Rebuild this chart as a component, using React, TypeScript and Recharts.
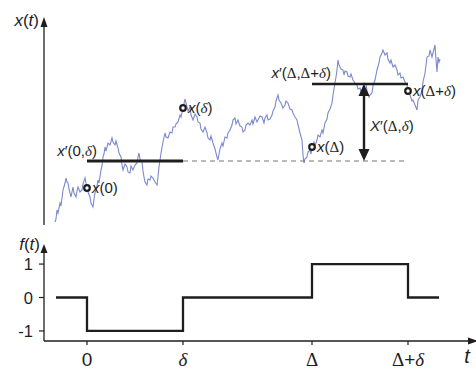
import React from 'react';
import { LineChart, Line, XAxis, YAxis, ReferenceLine, ReferenceDot } from 'recharts';

// time axis: δ is the window length, Δ the lag between the two windows
const delta = 96;
const lag = 225;
const tStart = -43;
const tEnd = 389;

// sampled path x(t) as [t, x]
const walk: [number, number][] = [
  [-32, 0.3], [-31, 0.6], [-30, 1.5], [-29, 1.2], [-27, 2.2], [-26, 1.9], [-24, 3.5], [-22, 4.2],
  [-21, 4.7], [-20, 4.3], [-19, 4.2], [-18, 3.6], [-16, 2.8], [-15, 3.3], [-14, 3.8], [-13, 3.2],
  [-11, 2.8], [-10, 3.4], [-9, 3.8], [-7, 3.3], [-5, 3.5], [-4, 4.1], [-2, 4.7], [-1, 4.2],
  [0, 3.7], [1, 3.3], [3, 2.8], [4, 2.2], [6, 1.8], [7, 2.6], [8, 3.2], [10, 3.9],
  [11, 4.5], [12, 4.2], [14, 5.5], [15, 5.9], [16, 6.8], [17, 7.1], [18, 7.8], [19, 7.4],
  [21, 8.2], [23, 8.0], [25, 8.7], [26, 8.3], [28, 8.0], [29, 8.4], [31, 7.7], [32, 7.2],
  [34, 6.8], [35, 6.0], [36, 5.5], [38, 6.1], [40, 5.8], [41, 5.3], [43, 5.2], [44, 5.9],
  [46, 5.5], [48, 6.0], [50, 6.2], [51, 6.8], [52, 7.2], [53, 6.6], [55, 6.3], [56, 5.4],
  [57, 4.8], [58, 4.3], [60, 4.0], [61, 4.6], [63, 4.5], [64, 4.9], [66, 4.7], [68, 4.3],
  [70, 4.0], [71, 4.8], [72, 5.8], [73, 6.5], [74, 7.2], [76, 8.3], [78, 9.2], [79, 8.8],
  [81, 8.7], [83, 9.3], [85, 9.2], [86, 9.8], [88, 9.8], [89, 10.1], [91, 10.3], [93, 11.0],
  [94, 10.8], [96, 11.7], [98, 12.6], [99, 12.2], [101, 11.4], [103, 11.8], [104, 11.0], [106, 10.5],
  [108, 11.1], [110, 10.8], [111, 10.3], [113, 10.2], [114, 9.6], [116, 9.3], [118, 9.8], [120, 9.2],
  [121, 8.7], [123, 8.5], [124, 8.9], [126, 8.2], [128, 7.6], [130, 6.8], [131, 6.5], [132, 7.1],
  [133, 7.6], [135, 8.2], [136, 7.9], [138, 8.8], [140, 8.7], [141, 9.2], [143, 9.5], [145, 10.0],
  [146, 10.5], [148, 10.7], [149, 10.1], [151, 10.5], [153, 9.9], [155, 9.8], [156, 9.3], [158, 9.5],
  [159, 10.0], [161, 10.2], [163, 10.0], [165, 10.5], [166, 10.1], [168, 10.8], [170, 10.3], [171, 10.5],
  [173, 10.9], [175, 10.8], [177, 10.2], [178, 10.7], [180, 11.0], [181, 10.5], [183, 10.6], [185, 11.0],
  [186, 11.4], [188, 11.8], [189, 12.4], [191, 13.0], [192, 12.5], [194, 12.2], [196, 11.7], [198, 12.0],
  [199, 12.4], [201, 12.2], [203, 11.6], [205, 11.5], [206, 11.2], [208, 10.8], [210, 10.5], [211, 10.0],
  [213, 9.2], [215, 8.5], [216, 7.0], [217, 6.2], [218, 6.6], [220, 6.8], [221, 7.3], [223, 7.5],
  [224, 7.1], [225, 7.8], [227, 8.3], [228, 7.9], [230, 8.5], [231, 9.0], [233, 8.8], [235, 9.5],
  [236, 9.2], [238, 10.2], [240, 10.6], [241, 11.2], [243, 11.6], [245, 12.2], [246, 13.0], [248, 14.2],
  [249, 14.8], [250, 15.5], [251, 16.5], [252, 16.0], [254, 15.6], [256, 15.5], [257, 15.0], [258, 15.4],
  [260, 15.3], [261, 14.9], [263, 14.8], [264, 15.1], [266, 14.5], [268, 14.2], [270, 14.0], [271, 13.6],
  [273, 13.7], [274, 13.3], [276, 13.8], [277, 14.2], [279, 14.1], [280, 13.4], [282, 12.8], [283, 13.0],
  [285, 13.2], [286, 13.9], [288, 14.5], [289, 15.0], [290, 15.5], [292, 16.2], [293, 16.8], [295, 17.2],
  [296, 17.5], [298, 17.0], [300, 17.2], [301, 16.6], [303, 16.2], [304, 16.5], [306, 15.8], [308, 16.0],
  [310, 15.5], [311, 15.0], [313, 15.2], [314, 14.7], [316, 14.8], [318, 14.3], [320, 14.0], [321, 13.4],
  [323, 13.0], [325, 12.4], [326, 12.5], [328, 12.0], [330, 11.5], [331, 12.5], [333, 12.8], [335, 13.5],
  [336, 14.3], [338, 15.2], [339, 16.0], [340, 16.8], [342, 16.9], [343, 17.5], [345, 16.8], [346, 17.2],
  [348, 18.0], [349, 16.5], [350, 15.3], [351, 16.8], [352, 16.3], [353, 16.6],
];

// window means x'(0,δ) and x'(Δ,Δ+δ)
const windowMeans = [6.4, 14.1];
// where the difference arrow X'(Δ,δ) is drawn
const arrowTime = 277;

// f(t) breakpoints (step held until the next time)
const stepTimes = [-31, 0, delta, lag, lag + delta, 352];
const stepValues = [0, -1, 0, 1, 0, 0];

const tickTimes = [0, delta, lag, lag + delta];
const tickNames = ['0', 'δ', 'Δ', 'Δ+δ'];
const fTicks = [-1, 0, 1];

const walkData = walk.map(([t, x]) => ({ t, x }));
const stepData = stepTimes.map((t, i) => ({ t, f: stepValues[i] }));
const valueAt = (t: number) => walk.find((p) => p[0] === t)![1];

const SANS = '"Liberation Sans", Arial, Helvetica, sans-serif';
const SERIF = '"Liberation Serif", "Times New Roman", serif';
const INK = '#1e1e1e';

// latin variables in italic, greek letters in a serif face (δ italic)
function MathText({ x, y, text, anchor = 'start', size = 15 }: any) {
  const runs: { s: string; family: string; italic: boolean }[] = [];
  for (const ch of text) {
    const italic = 'xtfX'.includes(ch) || ch === 'δ';
    const family = ch === 'δ' || ch === 'Δ' ? SERIF : SANS;
    const last = runs[runs.length - 1];
    if (last && last.family === family && last.italic === italic) last.s += ch;
    else runs.push({ s: ch, family, italic });
  }
  return (
    <text x={x} y={y} textAnchor={anchor} fontSize={size} fill={INK}>
      {runs.map((r, i) => (
        <tspan key={i} fontFamily={r.family} fontStyle={r.italic ? 'italic' : 'normal'}>
          {r.s}
        </tspan>
      ))}
    </text>
  );
}

// line with filled arrowheads at the end (or both ends)
const arrowShape = (both: boolean, len: number, half: number, width: number) => (p: any) => {
  const { x1, y1, x2, y2 } = p;
  const L = Math.hypot(x2 - x1, y2 - y1) || 1;
  const ux = (x2 - x1) / L;
  const uy = (y2 - y1) / L;
  const head = (tx: number, ty: number, sx: number, sy: number) => {
    const bx = tx - sx * len;
    const by = ty - sy * len;
    return `${tx},${ty} ${bx - sy * half},${by + sx * half} ${bx + sy * half},${by - sx * half}`;
  };
  const sx = both ? x1 + ux * len * 0.8 : x1;
  const sy = both ? y1 + uy * len * 0.8 : y1;
  return (
    <g>
      <line x1={sx} y1={sy} x2={x2 - ux * len * 0.8} y2={y2 - uy * len * 0.8} stroke={INK} strokeWidth={width} />
      <polygon points={head(x2, y2, ux, uy)} fill={INK} />
      {both && <polygon points={head(x1, y1, -ux, -uy)} fill={INK} />}
    </g>
  );
};

const labeledDot = (text: string) => (p: any) => (
  <g>
    <circle cx={p.cx} cy={p.cy} r={2.8} fill="#fff" stroke={INK} strokeWidth={2.2} />
    <MathText x={p.cx + 5} y={p.cy + 5} text={text} />
  </g>
);

const note = (text: string, dx: number, dy: number, anchor = 'start', size = 15) => (p: any) => (
  <MathText x={p.cx + dx} y={p.cy + dy} text={text} anchor={anchor} size={size} />
);

function TimeTick({ x, y, payload }: any) {
  const name = tickNames[tickTimes.indexOf(payload.value)];
  return <MathText x={x} y={y + 19} text={name} anchor="middle" size={19} />;
}

function LevelTick({ x, y, payload }: any) {
  return (
    <text x={x} y={y + 6} textAnchor="end" fontSize={16.5} fontFamily={SANS} fill={INK}>
      {payload.value}
    </text>
  );
}

export default function App() {
  const [m0, m1] = windowMeans;
  return (
    <div style={{ position: 'absolute', left: 0, top: 0, width: 476, height: 371, background: '#fff', overflow: 'hidden' }}>
      <div style={{ position: 'absolute', left: 0, top: 0 }}>
        <LineChart width={476} height={228} data={walkData} margin={{ top: 17, right: 0, bottom: 3, left: 44 }}>
          <XAxis dataKey="t" type="number" domain={[tStart, tEnd]} allowDataOverflow hide />
          <YAxis type="number" domain={[0, 20.8]} allowDataOverflow hide width={0} />
          <Line dataKey="x" stroke="#7c89cb" strokeWidth={1.1} dot={false} isAnimationActive={false} />
          <ReferenceLine
            segment={[{ x: tStart, y: 0 }, { x: tStart, y: 20.8 }]}
            ifOverflow="visible"
            shape={arrowShape(false, 10, 3.5, 1.3)}
          />
          <ReferenceLine segment={[{ x: delta, y: m0 }, { x: lag + delta, y: m0 }]} stroke="#777" strokeWidth={1.2} strokeDasharray="5 4" />
          <ReferenceLine segment={[{ x: 0, y: m0 }, { x: delta, y: m0 }]} stroke={INK} strokeWidth={3} />
          <ReferenceLine segment={[{ x: lag, y: m1 }, { x: lag + delta, y: m1 }]} stroke={INK} strokeWidth={2.4} />
          <ReferenceLine
            segment={[{ x: arrowTime, y: m0 }, { x: arrowTime, y: m1 }]}
            shape={arrowShape(true, 12, 5.5, 2.4)}
          />
          <ReferenceDot x={tStart} y={20.8} ifOverflow="visible" shape={note('x(t)', -5, 9, 'end', 17)} />
          <ReferenceDot x={0} y={m0} shape={note('x′(0,δ)', 10, -5, 'end')} />
          <ReferenceDot x={lag} y={m1} shape={note('x′(Δ,Δ+δ)', 19, -6, 'end')} />
          <ReferenceDot x={arrowTime} y={m0} shape={note('X′(Δ,δ)', 6, -30)} />
          <ReferenceDot x={0} y={valueAt(0)} shape={labeledDot('x(0)')} />
          <ReferenceDot x={delta} y={valueAt(delta)} shape={labeledDot('x(δ)')} />
          <ReferenceDot x={lag} y={valueAt(lag)} shape={labeledDot('x(Δ)')} />
          <ReferenceDot x={lag + delta} y={valueAt(lag + delta)} shape={labeledDot('x(Δ+δ)')} />
        </LineChart>
      </div>
      <div style={{ position: 'absolute', left: 0, top: 236 }}>
        <LineChart width={476} height={135} data={stepData} margin={{ top: 8, right: 0, bottom: 0, left: 0 }}>
          <XAxis
            dataKey="t"
            type="number"
            domain={[tStart, tEnd]}
            allowDataOverflow
            ticks={tickTimes}
            interval={0}
            height={30}
            axisLine={false}
            tickSize={4}
            tickLine={{ stroke: INK, strokeWidth: 1.2 }}
            tick={<TimeTick />}
          />
          <YAxis
            type="number"
            domain={[-1.3, 1.6]}
            allowDataOverflow
            ticks={fTicks}
            interval={0}
            width={44}
            axisLine={false}
            tickSize={5}
            tickMargin={6}
            tickLine={{ stroke: INK, strokeWidth: 1.2 }}
            tick={<LevelTick />}
          />
          <Line type="stepAfter" dataKey="f" stroke={INK} strokeWidth={2.3} dot={false} isAnimationActive={false} />
          <ReferenceLine
            segment={[{ x: tStart, y: -1.3 }, { x: tStart, y: 1.6 }]}
            ifOverflow="visible"
            shape={arrowShape(false, 9, 3.5, 1.3)}
          />
          <ReferenceLine
            segment={[{ x: tStart, y: -1.3 }, { x: tEnd + 2, y: -1.3 }]}
            ifOverflow="visible"
            shape={arrowShape(false, 10, 3.5, 1.5)}
          />
          <ReferenceDot x={tStart} y={1.6} ifOverflow="visible" shape={note('f(t)', -4, 6, 'end', 17)} />
          <ReferenceDot x={tEnd} y={-1.3} ifOverflow="visible" shape={note('t', -9, 22, 'middle', 20)} />
        </LineChart>
      </div>
    </div>
  );
}
